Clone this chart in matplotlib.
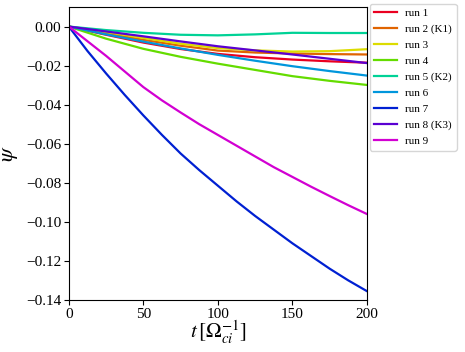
import matplotlib
matplotlib.use("Agg")
import matplotlib.pyplot as plt

# time samples and psi(t)
t = [0, 25, 50, 75, 100, 125, 150, 175, 200]
t_fine = [0, 12.5, 25, 37.5, 50, 62.5, 75, 87.5, 100,
          112.5, 125, 137.5, 150, 162.5, 175, 187.5, 200]

run1 = [0, -0.0042, -0.0082, -0.0115, -0.0140, -0.0157, -0.0169, -0.0178, -0.0185]
run2 = [0, -0.0035, -0.0068, -0.0098, -0.0123, -0.0133, -0.0138, -0.0141, -0.0143]
run3 = [0, -0.0028, -0.0058, -0.0088, -0.0110, -0.0122, -0.0128, -0.0126, -0.0116]
run4 = [0, -0.0062, -0.0114, -0.0155, -0.0190, -0.0222, -0.0254, -0.0278, -0.0299]
run5 = [0, -0.0018, -0.0032, -0.0042, -0.0045, -0.0040, -0.0032, -0.0033, -0.0033]
run6 = [0, -0.0040, -0.0077, -0.0112, -0.0145, -0.0175, -0.0203, -0.0228, -0.0251]
run7 = [0, -0.0125, -0.0240, -0.0350, -0.0455, -0.0555, -0.0650, -0.0735, -0.0815,
        -0.0895, -0.0970, -0.1040, -0.1110, -0.1175, -0.1240, -0.1300, -0.1355]
run8 = [0, -0.0025, -0.0050, -0.0076, -0.0101, -0.0122, -0.0143, -0.0165, -0.0187]
run9 = [0, -0.0075, -0.0150, -0.0230, -0.0310, -0.0378, -0.0440, -0.0500, -0.0555,
        -0.0610, -0.0665, -0.0720, -0.0770, -0.0820, -0.0868, -0.0915, -0.0960]

runs = [run1, run2, run3, run4, run5, run6, run7, run8, run9]
labels = ['run 1', 'run 2 (K1)', 'run 3', 'run 4', 'run 5 (K2)',
          'run 6', 'run 7', 'run 8 (K3)', 'run 9']
colors = ['#ea0020', '#e06400', '#dcdc00', '#64dc00', '#00d296',
          '#0096dc', '#0020d2', '#5a00d2', '#d200d2']

plt.rcParams['font.family'] = ['Liberation Serif', 'DejaVu Serif']
plt.rcParams['mathtext.fontset'] = 'stix'

fig = plt.figure(figsize=(4.65, 3.52), dpi=100)
ax = fig.add_axes([0.148, 0.148, 0.641, 0.832])

for y, lab, c in zip(runs, labels, colors):
    tt = t_fine if len(y) == len(t_fine) else t
    ax.plot(tt, y, color=c, lw=1.6, label=lab)

ax.set_xlim(0, 200)
ax.set_ylim(-0.14, 0.01)
ax.set_xticks([0, 50, 100, 150, 200])
ax.set_yticks([-0.14, -0.12, -0.10, -0.08, -0.06, -0.04, -0.02, 0.00])
ax.yaxis.set_major_formatter(matplotlib.ticker.FuncFormatter(
    lambda v, p: f'{v:.2f}'.replace('-', '\u2212')))
ax.tick_params(labelsize=11, pad=2)
ax.set_xlabel(r'$t\,[\Omega_{ci}^{-1}]$', fontsize=15, labelpad=-1)
ax.set_ylabel(r'$\psi$', fontsize=16, labelpad=4)

ax.legend(loc='upper left', bbox_to_anchor=(1.01, 1.01), borderaxespad=0,
          fontsize=8, handlelength=2.0, labelspacing=0.55)

fig.savefig('out.png', dpi=100)
